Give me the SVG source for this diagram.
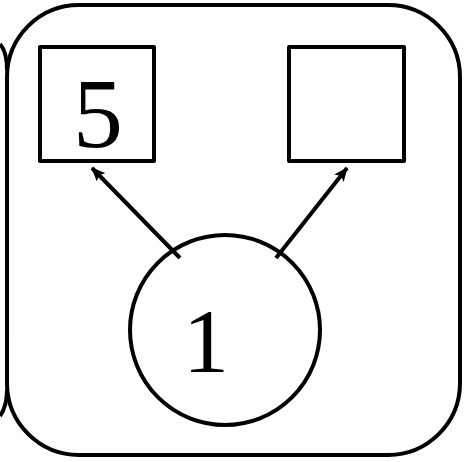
<svg xmlns="http://www.w3.org/2000/svg" width="471" height="462" viewBox="0 0 471 462">
  <style>
    .frame { fill: none; stroke: #000; stroke-width: 4; }
    .box { fill: #fff; stroke: #000; stroke-width: 4; stroke-linejoin: round; }
    .num { font-family: "Liberation Serif", "Times New Roman", serif; fill: #000; text-anchor: middle; }
    .conn { stroke: #000; stroke-width: 4; fill: none; }
  </style>
  <defs>
    <marker id="arrow" viewBox="0 0 14 12" refX="13" refY="6" markerWidth="14" markerHeight="12" markerUnits="userSpaceOnUse" orient="auto">
      <path d="M0,0 L14,6 L0,12 L3,6 Z" fill="#000"/>
    </marker>
  </defs>
  <rect x="0" y="0" width="471" height="462" fill="#fff"/>
  <g id="frame">
    <rect class="frame" x="7" y="5" width="453" height="450" rx="72" ry="72"/>
    <path class="frame" d="M0,44 Q7,52 7,70"/>
    <path class="frame" d="M7,390 Q7,406 0,416"/>
  </g>
  <g id="node-5">
    <rect class="box" x="40" y="47" width="114" height="114"/>
    <text class="num" x="98" y="147" font-size="100">5</text>
  </g>
  <g id="node-empty">
    <rect class="box" x="289" y="47" width="115" height="114"/>
  </g>
  <g id="node-1">
    <circle class="box" cx="225" cy="330" r="95"/>
    <text class="num" x="206" y="372" font-size="92">1</text>
  </g>
  <g id="connectors">
    <line class="conn" x1="180" y1="258" x2="92" y2="168" marker-end="url(#arrow)"/>
    <line class="conn" x1="276" y1="258" x2="347" y2="168" marker-end="url(#arrow)"/>
  </g>
</svg>
